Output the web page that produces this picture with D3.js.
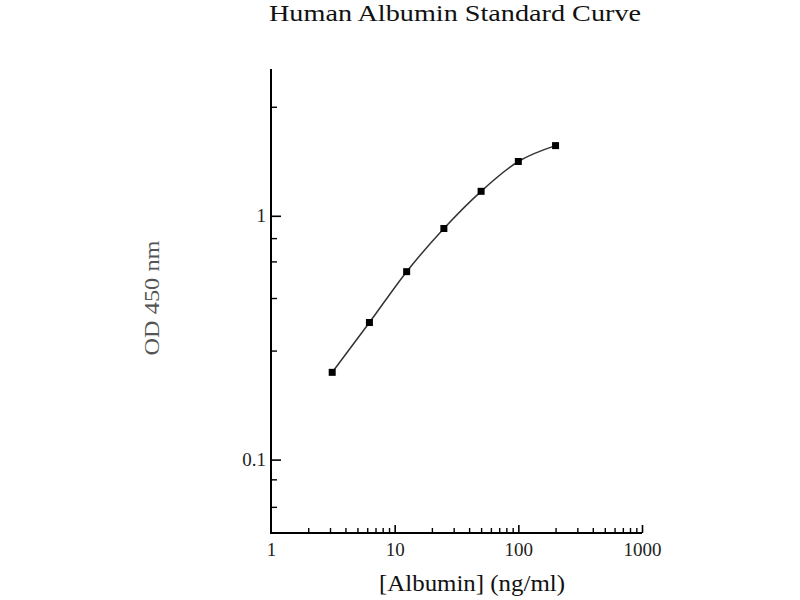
<!DOCTYPE html>
<html>
<head>
<meta charset="utf-8">
<script src="https://cdn.jsdelivr.net/npm/d3@7"></script>
<style>
	body { margin: 0; background: #fff; }
	svg text { font-family: "Liberation Serif", "Times New Roman", serif; }
</style>
</head>
<body>
<div id="chart"></div>
<script>
// Data
//---------
var concentrations = [3.125, 6.25, 12.5, 25, 50, 100, 200];
var odValues = [0.228, 0.365, 0.59, 0.887, 1.26, 1.67, 1.94];

var xMajorTicks = [10, 100, 1000];
var xLabelTicks = [1, 10, 100, 1000];
var xMinorTicks = [2, 3, 4, 5, 6, 7, 8, 9, 20, 30, 40, 50, 60, 70, 80, 90, 200, 300, 400, 500, 600, 700, 800, 900];
var yMajorTicks = [0.1, 1];
var yMinorTicks = [0.064, 0.083, 0.28, 0.46, 0.65, 0.81, 2.8];

// Setup
//---------
var width = 800, height = 600;
var svg = d3.select("#chart").append("svg")
	.attr("width", width)
	.attr("height", height);

var x = d3.scaleLog().domain([1, 1000]).range([271, 642]);
var y = d3.scaleLog().domain([0.05, 4]).range([533, 69]);

//-- Title
svg.append("text")
	.attr("x", 455)
	.attr("y", 21)
	.attr("text-anchor", "middle")
	.attr("font-size", 23)
	.attr("textLength", 372)
	.attr("lengthAdjust", "spacingAndGlyphs")
	.attr("fill", "#111")
	.text("Human Albumin Standard Curve");

// X Axis
//------------
var xAxisG = svg.append("g").attr("transform", "translate(0," + y.range()[0] + ")");

//-- labels (no tick lines)
xAxisG.append("g")
	.call(d3.axisBottom(x).tickValues(xLabelTicks).tickSize(0).tickPadding(10).tickFormat(d3.format("d")))
	.call(function(g) { g.select(".domain").remove(); })
	.selectAll("text")
	.attr("font-size", 19)
	.attr("font-family", "Liberation Serif")
	.attr("fill", "#222");

//-- major ticks (pointing up)
xAxisG.append("g")
	.call(d3.axisBottom(x).tickValues(xMajorTicks).tickSizeInner(-8).tickSizeOuter(0).tickFormat(""))
	.call(function(g) { g.select(".domain").remove(); })
	.selectAll("line").attr("stroke", "#000").attr("stroke-width", 1.6);

//-- minor ticks
xAxisG.append("g")
	.call(d3.axisBottom(x).tickValues(xMinorTicks).tickSizeInner(-5).tickSizeOuter(0).tickFormat(""))
	.call(function(g) { g.select(".domain").remove(); })
	.selectAll("line").attr("stroke", "#000").attr("stroke-width", 1.4);

// Y Axis
//------------
var yAxisG = svg.append("g").attr("transform", "translate(" + x.range()[0] + ",0)");

yAxisG.append("g")
	.call(d3.axisLeft(y).tickValues(yMajorTicks).tickSizeInner(-10).tickSizeOuter(0).tickPadding(5).tickFormat(function(d) { return d; }))
	.call(function(g) { g.select(".domain").remove(); })
	.call(function(g) {
		g.selectAll("line").attr("stroke", "#000").attr("stroke-width", 1.6);
		g.selectAll("text").attr("font-size", 19).attr("font-family", "Liberation Serif").attr("fill", "#222");
	});

yAxisG.append("g")
	.call(d3.axisLeft(y).tickValues(yMinorTicks).tickSizeInner(-6).tickSizeOuter(0).tickFormat(""))
	.call(function(g) { g.select(".domain").remove(); })
	.selectAll("line").attr("stroke", "#000").attr("stroke-width", 1.4);

//-- Axis lines (L shape)
svg.append("path")
	.attr("d", "M" + x.range()[0] + "," + y.range()[1] + "V" + y.range()[0] + "H" + x.range()[1])
	.attr("fill", "none")
	.attr("stroke", "#000")
	.attr("stroke-width", 2);

//-- Axis titles
svg.append("text")
	.attr("x", 472)
	.attr("y", 591)
	.attr("text-anchor", "middle")
	.attr("font-size", 23)
	.attr("textLength", 186)
	.attr("lengthAdjust", "spacingAndGlyphs")
	.attr("fill", "#111")
	.text("[Albumin] (ng/ml)");

svg.append("text")
	.attr("transform", "translate(159,298) rotate(-90)")
	.attr("text-anchor", "middle")
	.attr("font-size", 22)
	.attr("textLength", 115)
	.attr("lengthAdjust", "spacingAndGlyphs")
	.attr("fill", "#555")
	.text("OD 450 nm");

// Curve + points
//------------
var points = concentrations.map(function(c, i) { return [c, odValues[i]]; });

var line = d3.line()
	.x(function(d) { return x(d[0]); })
	.y(function(d) { return y(d[1]); })
	.curve(d3.curveMonotoneX);

svg.append("path")
	.datum(points)
	.attr("d", line)
	.attr("fill", "none")
	.attr("stroke", "#333")
	.attr("stroke-width", 1.5);

var markerSize = 7;
svg.append("g").selectAll("rect")
	.data(points)
	.join("rect")
	.attr("x", function(d) { return x(d[0]) - markerSize / 2; })
	.attr("y", function(d) { return y(d[1]) - markerSize / 2; })
	.attr("width", markerSize)
	.attr("height", markerSize)
	.attr("fill", "#000");
</script>
</body>
</html>
